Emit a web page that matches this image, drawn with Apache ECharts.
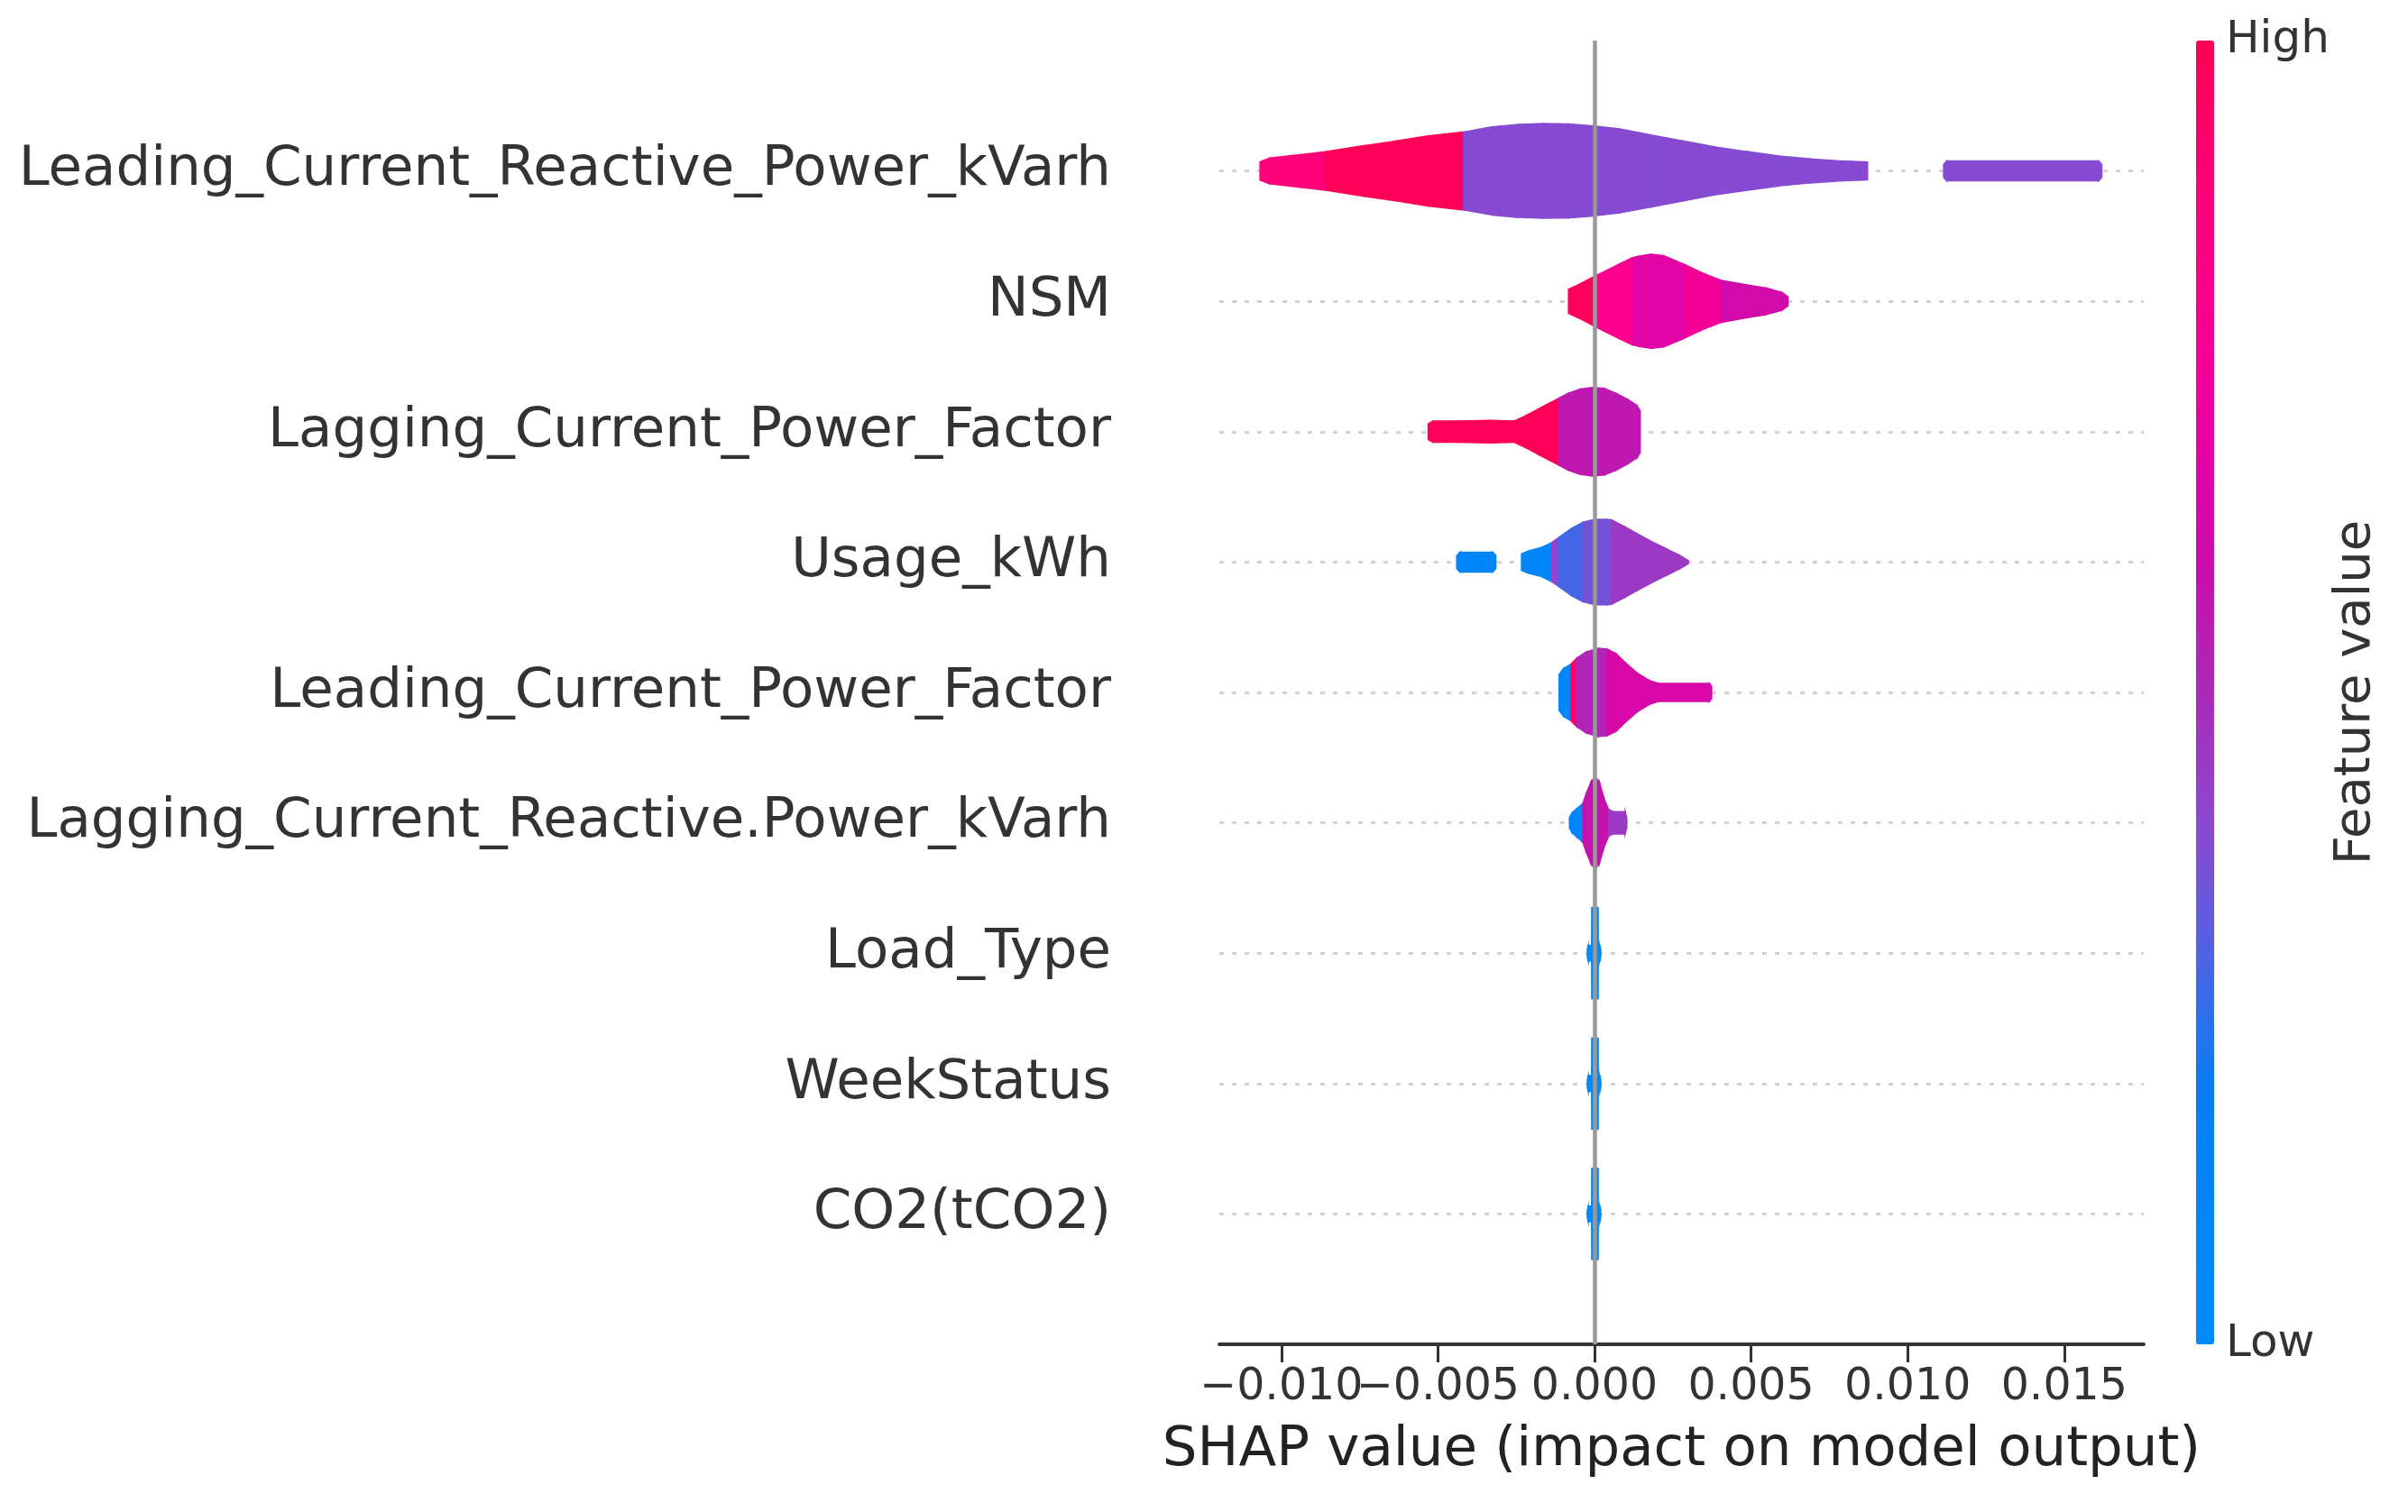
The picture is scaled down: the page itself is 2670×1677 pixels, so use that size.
<!DOCTYPE html>
<html>
<head>
<meta charset="utf-8">
<script src="https://cdn.jsdelivr.net/npm/echarts@6/dist/echarts.min.js"></script>
<style>
html,body{margin:0;padding:0;background:#fff;}
#chart{width:2670px;height:1677px;}
</style>
</head>
<body>
<div id="chart"></div>
<script>
// ---------- DATA ----------
const features = [
  'Leading_Current_Reactive_Power_kVarh',
  'NSM',
  'Lagging_Current_Power_Factor',
  'Usage_kWh',
  'Leading_Current_Power_Factor',
  'Lagging_Current_Reactive.Power_kVarh',
  'Load_Type',
  'WeekStatus',
  'CO2(tCO2)'
];
const xTickValues = [-0.01, -0.005, 0, 0.005, 0.01, 0.015];
const colorbarLabels = ['High', 'Low'];
const colorbarTitle = 'Feature value';
const xAxisTitle = 'SHAP value (impact on model output)';

// Violin outlines: SHAP position, half-width (row units), feature-value colour per segment (null = gap)
const leadKvarhX = [-0.01068,-0.01037,-0.00936,-0.00855,-0.00733,-0.00631,-0.0053,-0.00418,-0.00327,-0.00245,-0.00164,-0.00083,-0.00002,0.0008,0.00181,0.00283,0.00384,0.00486,0.00588,0.00689,0.00791,0.00872,0.01115,0.01125,0.0161,0.0162];
const leadKvarhH = [0.07,0.099,0.126,0.149,0.195,0.23,0.269,0.299,0.338,0.356,0.363,0.361,0.345,0.322,0.276,0.23,0.184,0.149,0.115,0.092,0.076,0.069,0.05,0.076,0.076,0.05];
const leadKvarhC = [0.88,0.88,0.88,0.98,0.98,0.98,0.98,0.39,0.39,0.39,0.39,0.39,0.39,0.39,0.39,0.39,0.39,0.39,0.39,0.39,0.39,null,0.39,0.39,0.39];

const nsmX = [-0.00083,-0.00042,-0.00002,0.0008,0.0012,0.00141,0.00181,0.00222,0.00283,0.00293,0.00344,0.00405,0.00486,0.00547,0.00598,0.00618];
const nsmH = [0.092,0.138,0.189,0.287,0.333,0.345,0.361,0.349,0.287,0.276,0.218,0.161,0.126,0.103,0.069,0.034];
const nsmC = [0.97,0.97,0.8,0.8,0.67,0.67,0.67,0.67,0.67,0.76,0.76,0.62,0.62,0.62,0.62];

const lagPfX = [-0.00531,-0.00516,-0.0043,-0.00334,-0.00257,-0.00219,-0.00181,-0.00142,-0.00113,-0.00084,-0.00046,-0.00008,0.00031,0.00069,0.00107,0.00136,0.00146];
const lagPfH = [0.06,0.081,0.081,0.086,0.081,0.123,0.172,0.221,0.258,0.295,0.327,0.339,0.332,0.295,0.246,0.2,0.16];
const lagPfC = [0.98,0.98,0.98,0.98,0.98,0.98,0.98,0.98,0.56,0.56,0.56,0.56,0.56,0.56,0.56,0.56];

const usageX = [-0.0044,-0.0043,-0.00325,-0.00315,-0.00233,-0.00209,-0.00171,-0.00137,-0.00113,-0.00075,-0.00037,0.00002,0.0004,0.00055,0.00098,0.00136,0.00184,0.00232,0.00271,0.003];
const usageH = [0.05,0.076,0.076,0.05,0.064,0.087,0.11,0.149,0.19,0.255,0.305,0.328,0.328,0.323,0.27,0.218,0.156,0.099,0.053,0.011];
const usageC = [0.1,0.1,0.1,null,0.1,0.1,0.1,0.4,0.28,0.28,0.36,0.36,0.36,0.45,0.45,0.45,0.45,0.45,0.45];

const leadPfX = [-0.00113,-0.00099,-0.00075,-0.00056,-0.00027,0.00012,0.0004,0.00069,0.00098,0.00136,0.00175,0.00204,0.00367,0.00374];
const leadPfH = [0.138,0.183,0.218,0.264,0.31,0.339,0.333,0.298,0.229,0.149,0.092,0.069,0.069,0.046];
const leadPfC = [0.08,0.08,0.93,0.52,0.52,0.52,0.64,0.64,0.64,0.64,0.64,0.64,0.64];

const lagKvarhX = [-0.0008,-0.00072,-0.00056,-0.00037,-0.00027,-0.00012,0.00002,0.00016,0.00031,0.00045,0.0006,0.00098,0.00103];
const lagKvarhH = [0.04,0.075,0.11,0.15,0.218,0.31,0.356,0.31,0.183,0.103,0.085,0.085,0.04];
const lagKvarhC = [0.08,0.08,0.08,0.58,0.58,0.58,0.58,0.58,0.58,0.45,0.45,0.45];

const loadTypeX = [-0.00023,-0.0002,-0.00009,-0.00008,0.00011,0.00012,0.00017,0.0002];
const loadTypeH = [0.03,0.06,0.06,0.35,0.35,0.06,0.06,0.03];
const loadTypeC = [0.02,0.02,0.02,0.02,0.02,0.02,0.02];

const weekStatusX = [-0.00023,-0.0002,-0.00009,-0.00008,0.00011,0.00012,0.00017,0.0002];
const weekStatusH = [0.03,0.06,0.06,0.35,0.35,0.06,0.06,0.03];
const weekStatusC = [0.02,0.02,0.02,0.02,0.02,0.02,0.02];

const co2X = [-0.00023,-0.0002,-0.00009,-0.00008,0.00011,0.00012,0.00017,0.0002];
const co2H = [0.03,0.06,0.06,0.35,0.35,0.06,0.06,0.03];
const co2C = [0.02,0.02,0.02,0.02,0.02,0.02,0.02];

// colormap stops (low -> high)
const colormap = ['#008bfb','#0086f8','#0a7cf3','#5062e4','#8c48d0','#aa2ab8','#cc0cab','#ea00a4','#fd008e','#ff0074','#ff0052'];

// ---------- BUILD ----------
const violins = [
  [leadKvarhX, leadKvarhH, leadKvarhC],
  [nsmX, nsmH, nsmC],
  [lagPfX, lagPfH, lagPfC],
  [usageX, usageH, usageC],
  [leadPfX, leadPfH, leadPfC],
  [lagKvarhX, lagKvarhH, lagKvarhC],
  [loadTypeX, loadTypeH, loadTypeC],
  [weekStatusX, weekStatusH, weekStatusC],
  [co2X, co2H, co2C]
];
const segData = [];
violins.forEach(function (v, row) {
  const X = v[0], H = v[1], C = v[2];
  for (let i = 0; i < C.length; i++) {
    if (C[i] === null) continue;
    segData.push([X[i], H[i], X[i + 1], H[i + 1], row, C[i]]);
  }
});

// ECharts drops overlapping tick labels on one axis, so alternate ticks go on two stacked axes
const ticksA = xTickValues.filter(function (v, i) { return i % 2 === 0; });
const ticksB = xTickValues.filter(function (v, i) { return i % 2 === 1; });

const FONT = 'DejaVu Sans';
const gridColors = [];
for (let v = -1; v <= 9; v++) gridColors.push(v >= 0 && v < features.length ? '#d2d2d2' : 'rgba(0,0,0,0)');

const X_MIN = -0.01198, X_MAX = 0.01754;
function tickFmt(v) { return (v < 0 ? '\u2212' : '') + Math.abs(v).toFixed(3); }
function makeXAxis(ticks, main) {
  return {
    type: 'value',
    position: 'bottom',
    offset: 0,
    min: X_MIN,
    max: X_MAX,
    axisLine: { show: main, onZero: false, lineStyle: { color: '#333333', width: 4 } },
    axisTick: { show: true, length: 20, customValues: ticks, lineStyle: { color: '#333333', width: 3 } },
    axisLabel: {
      customValues: ticks,
      hideOverlap: false,
      fontFamily: FONT, fontSize: 49, color: '#333333', margin: 24,
      formatter: tickFmt
    },
    splitLine: { show: false },
    name: main ? xAxisTitle : '',
    nameLocation: 'middle',
    nameGap: 88,
    nameTextStyle: { fontFamily: FONT, fontSize: 61, color: '#222222' }
  };
}

const chart = echarts.init(document.getElementById('chart'));
chart.setOption({
  backgroundColor: '#ffffff',
  animation: false,
  grid: { left: 1352, right: 293, top: 45, bottom: 186, containLabel: false },
  xAxis: [makeXAxis(ticksA, true), makeXAxis(ticksB, false)],
  yAxis: {
    type: 'value',
    inverse: true,
    min: -1,
    max: 9,
    interval: 1,
    axisLine: { show: false },
    axisTick: { show: false },
    axisLabel: {
      fontFamily: FONT, fontSize: 61, color: '#333333', margin: 120,
      formatter: function (v) { return features[v] !== undefined ? features[v] : ''; }
    },
    splitLine: { show: true, lineStyle: { color: gridColors, width: 3, type: [5, 9] } }
  },
  visualMap: {
    type: 'continuous',
    min: 0, max: 1,
    dimension: 5,
    seriesIndex: 1,
    calculable: false,
    orient: 'vertical',
    left: 2435, top: 45,
    itemWidth: 20, itemHeight: 1446,
    padding: 0,
    text: null,
    showLabel: false,
    inRange: { color: colormap }
  },
  graphic: [
    { type: 'text', x: 2468, y: 45, style: { text: colorbarLabels[0], font: '50px "DejaVu Sans"', fill: '#333333', verticalAlign: 'middle' } },
    { type: 'text', x: 2468, y: 1491, style: { text: colorbarLabels[1], font: '50px "DejaVu Sans"', fill: '#333333', verticalAlign: 'middle' } },
    { type: 'text', x: 2612, y: 768, rotation: Math.PI / 2,
      style: { text: colorbarTitle, font: '56px "DejaVu Sans"', fill: '#333333', align: 'center', verticalAlign: 'middle' } }
  ],
  series: [
    {
      type: 'line', data: [], z: 1, silent: true, xAxisIndex: 0,
      markLine: {
        silent: true, symbol: ['none', 'none'], label: { show: false },
        lineStyle: { color: '#999999', width: 4.5, type: 'solid' },
        data: [{ xAxis: 0 }]
      }
    },
    {
      type: 'custom', z: 3, clip: true, xAxisIndex: 0,
      data: segData,
      encode: { x: [0, 2], y: 4 },
      renderItem: function (params, api) {
        const x0 = api.value(0), h0 = api.value(1), x1 = api.value(2), h1 = api.value(3), r = api.value(4);
        const pts = [api.coord([x0, r - h0]), api.coord([x1, r - h1]), api.coord([x1, r + h1]), api.coord([x0, r + h0])];
        const c = api.visual('color');
        return { type: 'polygon', shape: { points: pts }, style: { fill: c, stroke: c, lineWidth: 1.5 } };
      }
    }
  ]
});
</script>
</body>
</html>
